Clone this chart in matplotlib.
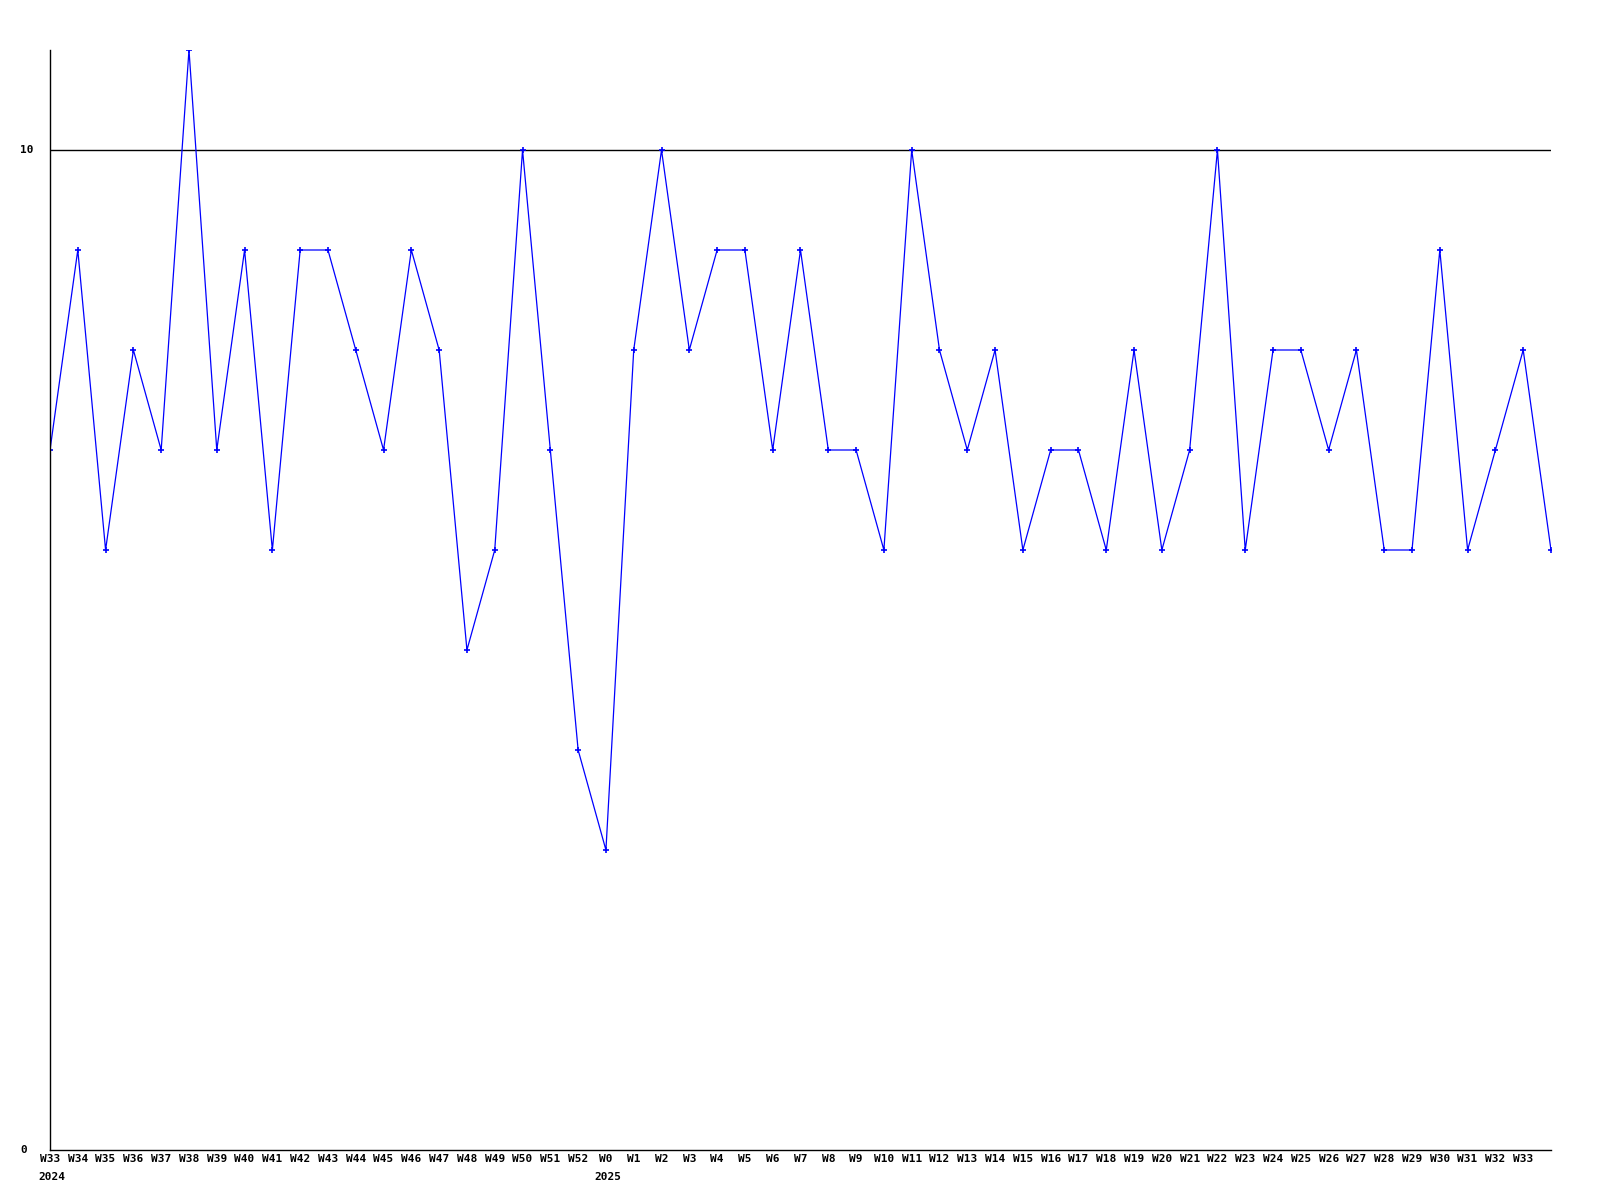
import matplotlib
matplotlib.use("Agg")
import matplotlib.pyplot as plt

weeks = ["W33", "W34", "W35", "W36", "W37", "W38", "W39", "W40", "W41", "W42",
         "W43", "W44", "W45", "W46", "W47", "W48", "W49", "W50", "W51", "W52",
         "W0", "W1", "W2", "W3", "W4", "W5", "W6", "W7", "W8", "W9",
         "W10", "W11", "W12", "W13", "W14", "W15", "W16", "W17", "W18", "W19",
         "W20", "W21", "W22", "W23", "W24", "W25", "W26", "W27", "W28", "W29",
         "W30", "W31", "W32", "W33"]
years = {0: "2024", 20: "2025"}
values = [7, 9, 6, 8, 7, 11, 7, 9, 6, 9,
          9, 8, 7, 9, 8, 5, 6, 10, 7, 4,
          3, 8, 10, 8, 9, 9, 7, 9, 7, 7,
          6, 10, 8, 7, 8, 6, 7, 7, 6, 8,
          6, 7, 10, 6, 8, 8, 7, 8, 6, 6,
          9, 6, 7, 8, 6]
yticks = [0, 10]

fig = plt.figure(figsize=(16, 12), dpi=100)
ax = fig.add_axes([50/1600, 1 - 1150/1200, 1501/1600, 1100/1200])
x = list(range(len(values)))
ax.plot(x, values, color="#0000ff", lw=0.9, marker="+", ms=4, mew=1.2, mec="#0000ff")
ax.axhline(10, color="black", lw=1.0, zorder=0)
ax.set_xlim(0, len(values) - 1)
ax.set_ylim(0, 11)
for s in ["top", "right"]:
    ax.spines[s].set_visible(False)
for s in ["left", "bottom"]:
    ax.spines[s].set_linewidth(1.0)
ax.set_xticks([])
ax.set_yticks([])
font = dict(family="DejaVu Sans Mono", fontweight="bold", fontsize=8)
for i, w in enumerate(weeks):
    ax.annotate(w, (i, 0), xycoords="data", xytext=(0, -9), textcoords="offset pixels",
                ha="center", va="center", **font)
    if i in years:
        ax.annotate(years[i], (i, 0), xycoords="data", xytext=(-12, -27), textcoords="offset pixels",
                    ha="left", va="center", **font)
for t in yticks:
    ax.annotate(str(t), (0, t), xycoords="data", xytext=(-30, 0), textcoords="offset pixels",
                ha="left", va="center", **font)
fig.savefig("out.png", dpi=100, facecolor="white")
